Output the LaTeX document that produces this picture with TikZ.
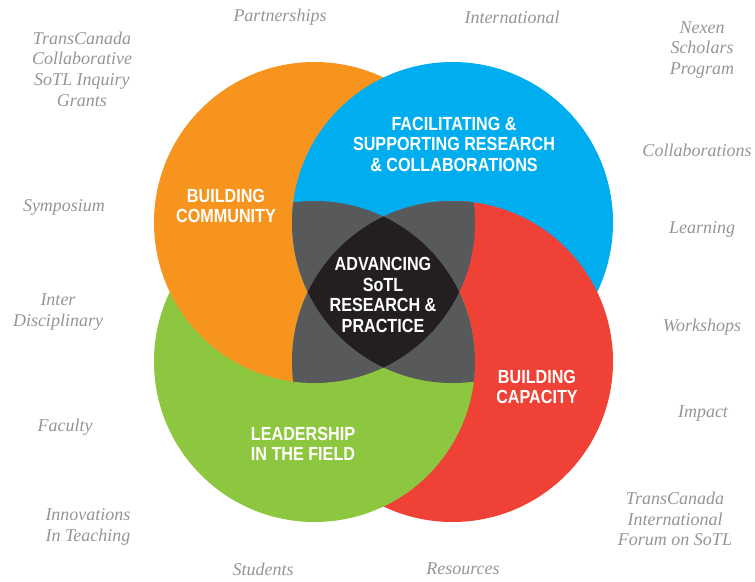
\documentclass[tikz,border=0pt]{standalone}
\usepackage{fontspec}
\setmainfont{Liberation Serif}
\newfontfamily\capsfont[FakeStretch=0.85]{Liberation Sans}
\definecolor{sotlorange}{HTML}{F7941D}
\definecolor{sotlblue}{HTML}{00AEEF}
\definecolor{sotlred}{HTML}{EF4136}
\definecolor{sotlgreen}{HTML}{8DC63F}
\definecolor{sotlgray}{HTML}{58595B}
\definecolor{sotlblack}{HTML}{231F20}
\definecolor{sidegray}{HTML}{939598}
\tikzset{
  side/.style={text=sidegray,font=\fontsize{18}{20.7}\selectfont\itshape,align=center,inner sep=0pt},
  ring/.style={text=white,font=\capsfont\bfseries\fontsize{19}{20.5}\selectfont,align=center,inner sep=0pt}
}
\begin{document}
\begin{tikzpicture}[x=1pt,y=-1pt]
	\useasboundingbox (0,0) rectangle (755,581);
	\def\rad{160.5pt}

	\coordinate (co) at (314.5,222.5);
	\coordinate (cb) at (452.5,222.5);
	\coordinate (cg) at (314.5,361.5);
	\coordinate (cr) at (452.5,361.5);

	\fill[sotlgreen] (cg) circle (\rad);
	\fill[sotlorange] (co) circle (\rad);
	\fill[sotlblue] (cb) circle (\rad);
	\fill[sotlred] (cr) circle (\rad);
	% green back over red
	\begin{scope}
	    \clip (cr) circle (\rad);
	    \fill[sotlgreen] (cg) circle (\rad);
	\end{scope}
	\begin{scope}
	    \clip (290,384) rectangle (480,530);
	    \clip (cr) circle (162pt);
	    \fill[sotlgreen] (cg) circle (\rad);
	\end{scope}

	% three circles overlap
	\foreach \a/\b/\c in {co/cb/cg,co/cb/cr,co/cg/cr,cb/cg/cr}{
	  \begin{scope}
	    \clip (\a) circle (\rad);
	    \clip (\b) circle (\rad);
	    \fill[sotlgray] (\c) circle (\rad);
	  \end{scope}
	}
	% all four
	\begin{scope}
	    \clip (co) circle (\rad);
	    \clip (cb) circle (\rad);
	    \clip (cg) circle (\rad);
	    \fill[sotlblack] (cr) circle (\rad);
	\end{scope}

	\node (community) at (226,206) [ring] {BUILDING\\COMMUNITY};
	\node (facilitating) at (454,144) [ring] {FACILITATING \&\\SUPPORTING RESEARCH\\\& COLLABORATIONS};
	\node (advancing) at (383,295) [ring] {ADVANCING\\SoTL\\RESEARCH \&\\PRACTICE};
	\node (capacity) at (537,387) [ring] {BUILDING\\CAPACITY};
	\node (leadership) at (303,444) [ring] {LEADERSHIP\\IN THE FIELD};

	\node (partnerships) at (280,17) [side] {Partnerships};
	\node (international) at (512,17) [side] {International};
	\node (grants) at (82,69) [side] {TransCanada\\Collaborative\\SoTL Inquiry\\Grants};
	\node (symposium) at (64,207) [side] {Symposium};
	\node (inter) at (58,312) [side] {Inter\\Disciplinary};
	\node (faculty) at (65,427) [side] {Faculty};
	\node (innovations) at (88,527) [side] {Innovations\\In Teaching};
	\node (students) at (263,569) [side] {Students};
	\node (resources) at (463,569) [side] {Resources};
	\node (nexen) at (702,50) [side] {Nexen\\Scholars\\Program};
	\node (collaborations) at (697,150) [side] {Collaborations};
	\node (learning) at (702,229) [side] {Learning};
	\node (workshops) at (702,327) [side] {Workshops};
	\node (impact) at (703,414) [side] {Impact};
	\node (forum) at (675,519) [side] {TransCanada\\International\\Forum on SoTL};

\end{tikzpicture}
\end{document}
